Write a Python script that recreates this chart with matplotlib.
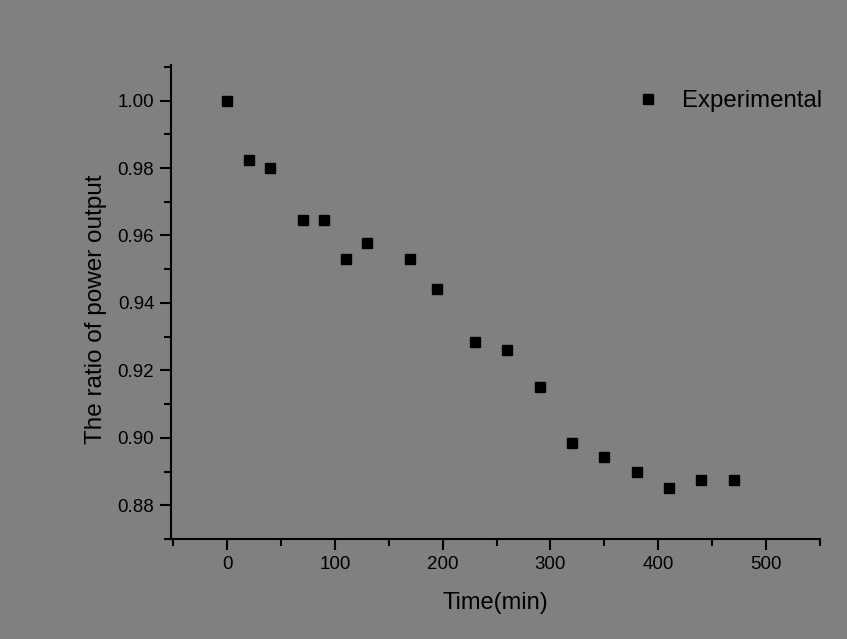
import matplotlib
matplotlib.use("Agg")
import matplotlib.pyplot as plt
from matplotlib.ticker import MultipleLocator

time_min = [0, 20, 40, 70, 90, 110, 130, 170, 195, 230, 260, 290, 320, 350, 380, 410, 440, 470]
ratio = [1.000, 0.9825, 0.980, 0.9645, 0.9645, 0.953, 0.9577, 0.953, 0.944, 0.9285,
         0.926, 0.915, 0.8985, 0.8943, 0.890, 0.8852, 0.8874, 0.8874]
y_ticks = [0.88, 0.90, 0.92, 0.94, 0.96, 0.98, 1.00]
x_ticks = [0, 100, 200, 300, 400, 500]

plt.rcParams['font.family'] = ['Liberation Sans', 'DejaVu Sans']
bg = '#808080'
fig = plt.figure(figsize=(8.47, 6.39), dpi=100, facecolor=bg)
ax = fig.add_axes([0.2019, 0.1565, 0.968 - 0.2019, 0.898 - 0.1565], facecolor=bg)

ax.plot(time_min, ratio, linestyle='none', marker='s', markersize=6.5,
        color='black', label='Experimental')

ax.set_xlim(-52, 550)
ax.set_ylim(0.870, 1.0105)
ax.set_xticks(x_ticks)
ax.set_yticks(y_ticks)
ax.set_yticklabels([f"{v:.2f}" for v in y_ticks])
ax.xaxis.set_minor_locator(MultipleLocator(50))
ax.yaxis.set_minor_locator(MultipleLocator(0.01))

for s in ['top', 'right']:
    ax.spines[s].set_visible(False)
for s in ['left', 'bottom']:
    ax.spines[s].set_linewidth(1.5)
    ax.spines[s].set_color('black')

ax.tick_params(which='major', direction='out', length=8, width=1.5, labelsize=13.5, colors='black', pad=4)
ax.tick_params(which='minor', direction='out', length=5, width=1.5, colors='black')

ax.set_xlabel('Time(min)', fontsize=17, labelpad=14)
ax.set_ylabel('The ratio of power output', fontsize=17.5)
ax.yaxis.set_label_coords(-0.099, 0.484)

ax.legend(loc='upper right', bbox_to_anchor=(1.025, 0.977), frameon=False, fontsize=17.3,
          handletextpad=0.6, borderaxespad=0.2, handlelength=1.6, markerscale=1.0)

fig.savefig('out.png', dpi=100, facecolor=bg)
